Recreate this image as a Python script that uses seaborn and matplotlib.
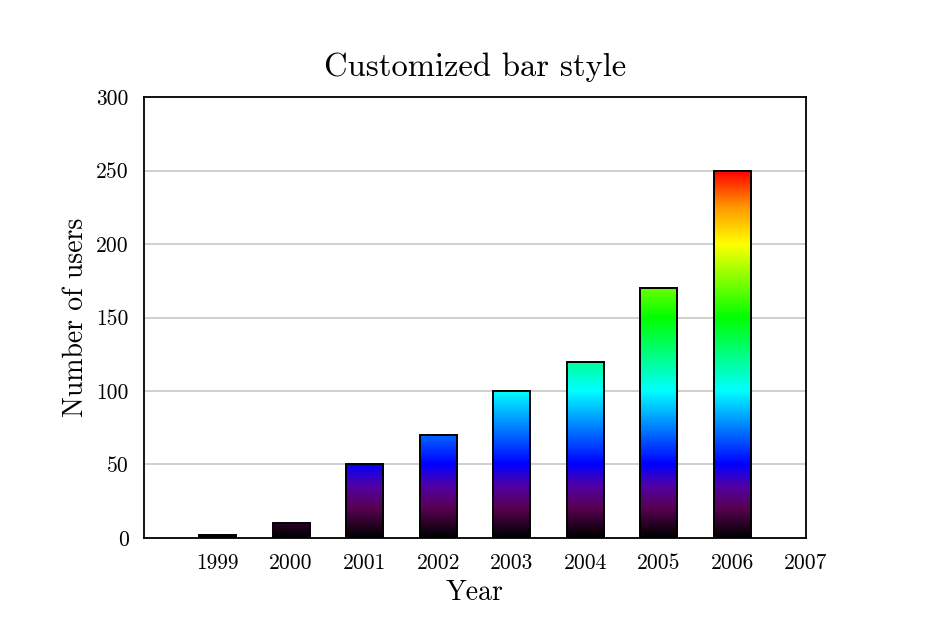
import numpy as np
import pandas as pd
import matplotlib
matplotlib.use("Agg")
import matplotlib.pyplot as plt
import seaborn as sns
from matplotlib.colors import LinearSegmentedColormap

years = [1999, 2000, 2001, 2002, 2003, 2004, 2005, 2006]
users = [2, 10, 50, 70, 100, 120, 170, 250]
tick_years = [1999, 2000, 2001, 2002, 2003, 2004, 2005, 2006, 2007]
y_ticks = [0, 50, 100, 150, 200, 250, 300]

sns.set_theme(style="white")
plt.rcParams['font.family'] = ['cmr10', 'DejaVu Serif']
plt.rcParams['axes.formatter.use_mathtext'] = True
plt.rcParams['axes.unicode_minus'] = False
plt.rcParams['text.color'] = 'black'
plt.rcParams['axes.labelcolor'] = 'black'
plt.rcParams['xtick.color'] = 'black'
plt.rcParams['ytick.color'] = 'black'

# black -> purple -> blue -> cyan -> green -> yellow -> red
bar_cmap = LinearSegmentedColormap.from_list("bars", [
    (0.0, (0.0, 0.0, 0.0)),
    (0.08, (0.35, 0.0, 0.32)),
    (0.14, (0.32, 0.0, 0.65)),
    (0.2, (0.0, 0.0, 1.0)),
    (0.4, (0.0, 1.0, 1.0)),
    (0.6, (0.0, 1.0, 0.0)),
    (0.8, (1.0, 1.0, 0.0)),
    (0.9, (1.0, 0.6, 0.0)),
    (1.0, (1.0, 0.0, 0.0)),
])

df = pd.DataFrame({"year": years, "users": users})

fig = plt.figure(figsize=(9.5, 6.35), dpi=100)
ax = fig.add_axes([0.1516, 0.1528, 0.6968, 0.6944])

sns.barplot(data=df, x="year", y="users", native_scale=True, width=0.5,
            color="white", edgecolor="black", linewidth=1.4, ax=ax, zorder=3)

vmax = max(users)
for patch in ax.patches:
    x0, y0 = patch.get_x(), patch.get_y()
    w, h = patch.get_width(), patch.get_height()
    grad = np.linspace(0, h, 256).reshape(-1, 1)
    im = ax.imshow(grad, extent=[x0, x0 + w, 0, h], origin="lower",
                   cmap=bar_cmap, vmin=0, vmax=vmax, aspect="auto", zorder=3)
    im.set_clip_path(patch)
    patch.set_facecolor("none")
    patch.set_zorder(4)

ax.set_xlim(1998, 2007)
ax.set_ylim(0, 300)
ax.set_xticks(tick_years)
ax.set_xticklabels([str(t) for t in tick_years], fontsize=15.5)
ax.set_yticks(y_ticks)
ax.set_yticklabels([str(t) for t in y_ticks], fontsize=15.5)
ax.tick_params(axis="both", length=0, pad=11)
ax.yaxis.grid(True, color="#cccccc", linewidth=1.3)
ax.xaxis.grid(False)
ax.set_axisbelow(True)
for s in ax.spines.values():
    s.set_color("black")
    s.set_linewidth(1.3)

ax.set_xlabel("Year", fontsize=20, labelpad=5)
ax.set_ylabel("Number of users", fontsize=20, labelpad=5)
ax.set_title("Customized bar style", fontsize=23.5, pad=15)

fig.savefig("out.png", dpi=100)
